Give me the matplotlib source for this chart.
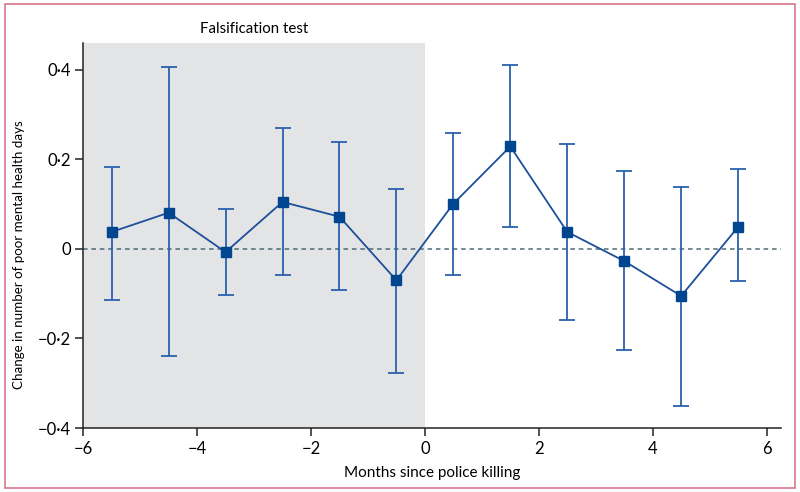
import matplotlib
matplotlib.use("Agg")
import matplotlib.pyplot as plt
from matplotlib import font_manager
from matplotlib.patches import Rectangle
from matplotlib.ticker import FuncFormatter

plt.rcParams['font.family'] = ['Lato', 'DejaVu Sans']

# months since the killing, estimates and 95% CI bounds
months = [-5.5, -4.5, -3.5, -2.5, -1.5, -0.5, 0.5, 1.5, 2.5, 3.5, 4.5, 5.5]
estimate = [0.038, 0.081, -0.007, 0.105, 0.072, -0.070, 0.101, 0.229, 0.038, -0.027, -0.105, 0.049]
ci_upper = [0.184, 0.406, 0.090, 0.271, 0.238, 0.135, 0.260, 0.410, 0.235, 0.173, 0.139, 0.179]
ci_lower = [-0.114, -0.240, -0.103, -0.058, -0.092, -0.276, -0.058, 0.049, -0.159, -0.226, -0.350, -0.072]

xticks = [-6, -4, -2, 0, 2, 4, 6]
yticks = [-0.4, -0.2, 0, 0.2, 0.4]

line_col = '#1d4f9a'
err_col = '#2b61ad'

# a condensed face looks closer to the original for the long y label
narrow = None
for f in font_manager.fontManager.ttflist:
    if f.name in ('Noto Sans', 'Open Sans', 'Roboto') and f.style == 'normal' \
            and f.weight in (400, 'normal', 'regular') \
            and f.stretch in ('semi-condensed', 'condensed'):
        narrow = f.fname
        if f.stretch == 'semi-condensed':
            break
if narrow:
    ylab_prop = font_manager.FontProperties(fname=narrow, size=10.5)
    ylab_note = 'narrow'
else:
    ylab_prop = font_manager.FontProperties(family='Lato', size=9.6)
    ylab_note = 'lato'

fig = plt.figure(figsize=(8, 4.92), dpi=100)
ax = fig.add_axes([0.104, 0.130, 0.872, 0.7826])

ax.axvspan(-6, 0, color='#e3e4e6', zorder=0, lw=0)
ax.axhline(0, color='#4f6b74', lw=1.1, ls=(0, (3, 2.5)), zorder=1)

err_lo = [e - l for e, l in zip(estimate, ci_lower)]
err_hi = [u - e for e, u in zip(estimate, ci_upper)]
ax.errorbar(months, estimate, yerr=[err_lo, err_hi], fmt='none', ecolor=err_col,
            elinewidth=1.3, capsize=6, capthick=1.3, zorder=2)
ax.plot(months, estimate, color=line_col, lw=1.3, marker='s', ms=7,
        mfc='#004590', mec='#004590', zorder=3)

ax.set_xlim(-6, 6.25)
ax.set_ylim(-0.4, 0.46)
ax.set_xticks(xticks)
ax.set_yticks(yticks)

def fmt(v, pos):
    if abs(v) < 1e-9:
        return '0'
    s = ('%.1f' % v).replace('.', '\u00b7').replace('-', '\u2212')
    return s

ax.yaxis.set_major_formatter(FuncFormatter(fmt))
ax.xaxis.set_major_formatter(FuncFormatter(lambda v, p: ('%d' % v).replace('-', '\u2212')))

for side in ['top', 'right']:
    ax.spines[side].set_visible(False)
for side in ['left', 'bottom']:
    ax.spines[side].set_color('#222222')
    ax.spines[side].set_linewidth(1.1)
ax.tick_params(direction='out', length=6, width=1.1, color='#222222', labelsize=12, pad=3)

ax.set_xlabel('Months since police killing', fontsize=11, labelpad=7)
ax.set_ylabel('Change in number of poor mental health days', fontproperties=ylab_prop,
              labelpad=3)
ax.yaxis.set_label_coords(-0.084, 0.45)

ax.text(-3, 0.475, 'Falsification test', ha='center', va='bottom', fontsize=10.8)

fig.patches.append(Rectangle((0.006, 0.008), 0.988, 0.984, transform=fig.transFigure,
                             fill=False, edgecolor='#d8768d', lw=1.2))

fig.savefig('out.png', dpi=100)
